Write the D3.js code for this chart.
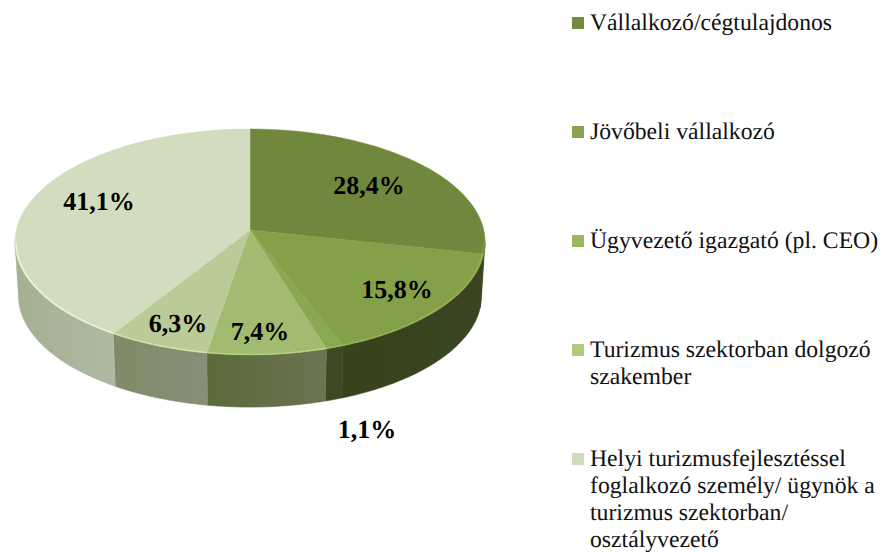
<!DOCTYPE html>
<meta charset="utf-8">
<body style="margin:0;background:#fff;">
<svg width="882" height="553" style="text-rendering:geometricPrecision;"></svg>
<script src="https://cdn.jsdelivr.net/npm/d3@7"></script>
<script>
    // values in clockwise order, starting at 12 o'clock
    let values = [28.4, 15.8, 1.1, 7.4, 6.3, 41.1];
    let valueLabels = ['28,4%', '15,8%', '1,1%', '7,4%', '6,3%', '41,1%'];
    let topColors = ['#70883c', '#84a04a', '#8aa752', '#a1bc6f', '#b9cb97', '#d1ddbe'];
    let sideLeft = ['#3a4420', '#38421f', '#3d4823', '#5c693a', '#7f8b68', '#a4b092'];
    let sideRight = ['#3a4420', '#3a4520', '#3f4a25', '#6b7453', '#878f78', '#afb9a3'];
    let legendColors = ['#748a40', '#88a250', '#9bb75f', '#afca7c', '#cfdcb9'];
    let legendLines = [
        ['Vállalkozó/cégtulajdonos'],
        ['Jövőbeli vállalkozó'],
        ['Ügyvezető igazgató (pl. CEO)'],
        ['Turizmus szektorban dolgozó', 'szakember'],
        ['Helyi turizmusfejlesztéssel', 'foglalkozó személy/ ügynök a', 'turizmus szektorban/', 'osztályvezető']
    ];
    let legendY = [23, 132, 241, 350, 459];
    let labelPos = [[369, 194], [397, 298], [367, 438], [260, 340], [178, 332], [99, 210]];

    let svg = d3.select('svg'),
        cx = 250, cy = 230,
        persp = 0.1062, kx = 233.7, ky = 111.7,
        depth = 55;

    // perspective projection of the unit disc, the pie centre is not the ellipse centre
    let project = (a, r = 1, s = 1, dy = 0) => {
        let u = r * Math.sin(a), v = -r * Math.cos(a), d = 1 - persp * v;
        return [cx + s * kx * u / d, cy + s * ky * v / d + dy];
    };
    let arcAngles = (a0, a1) => d3.range(0, 61).map(i => a0 + (a1 - a0) * i / 60);
    let line = d3.line();

    let arcs = d3.pie().sort(null)(values);
    let defs = svg.append('defs');
    defs.append('filter').attr('id', 'soft')
        .append('feGaussianBlur').attr('stdDeviation', 0.5);
    let pie = svg.append('g').attr('filter', 'url(#soft)');

    // side wall, only the part that faces the viewer
    let frontA = Math.PI - Math.acos(persp), frontB = Math.PI + Math.acos(persp);
    arcs.forEach((d, i) => {
        let a0 = Math.max(d.startAngle, frontA), a1 = Math.min(d.endAngle, frontB);
        if (a1 <= a0) return;
        let g = defs.append('linearGradient').attr('id', 'side' + i)
            .attr('x1', 0).attr('x2', 1).attr('y1', 0).attr('y2', 0);
        g.append('stop').attr('offset', 0).attr('stop-color', sideLeft[i]);
        g.append('stop').attr('offset', 1).attr('stop-color', sideRight[i]);
        let angles = arcAngles(a0, a1);
        let pts = angles.map(a => project(a))
            .concat(angles.slice().reverse().map(a => project(a, 1, 0.985, depth - 1)));
        pie.append('path').attr('d', line(pts) + 'Z')
            .attr('fill', `url(#side${i})`)
            .attr('stroke', `url(#side${i})`).attr('stroke-width', 0.6);
    });

    // top face
    arcs.forEach((d, i) => {
        let pts = [project(0, 0)].concat(arcAngles(d.startAngle, d.endAngle).map(a => project(a)));
        pie.append('path').attr('d', line(pts) + 'Z')
            .attr('fill', topColors[i])
            .attr('stroke', topColors[i]).attr('stroke-width', 0.5);
    });

    // light rim on the front edge
    arcs.forEach((d, i) => {
        let a0 = Math.max(d.startAngle, frontA), a1 = Math.min(d.endAngle, frontB);
        if (a1 <= a0) return;
        pie.append('path').attr('d', line(arcAngles(a0, a1).map(a => project(a, 0.995))))
            .attr('fill', 'none')
            .attr('stroke', d3.color(topColors[i]).brighter(0.35))
            .attr('stroke-width', 1.2);
    });

    svg.selectAll('text.val').data(valueLabels).join('text')
        .attr('class', 'val')
        .attr('x', (d, i) => labelPos[i][0])
        .attr('y', (d, i) => labelPos[i][1])
        .attr('text-anchor', 'middle')
        .style('font', 'bold 26px "Liberation Serif"')
        .style('fill', '#000')
        .text(d => d);

    // legend
    legendLines.forEach((lines, i) => {
        svg.append('rect').attr('x', 572).attr('y', legendY[i] - 6)
            .attr('width', 12).attr('height', 12).attr('fill', legendColors[i]);
        lines.forEach((t, j) => {
            svg.append('text').attr('x', 590).attr('y', legendY[i] + 7 + j * 27)
                .style('font', '23.7px "Liberation Serif"')
                .style('fill', '#111')
                .text(t);
        });
    });
</script>
</body>
